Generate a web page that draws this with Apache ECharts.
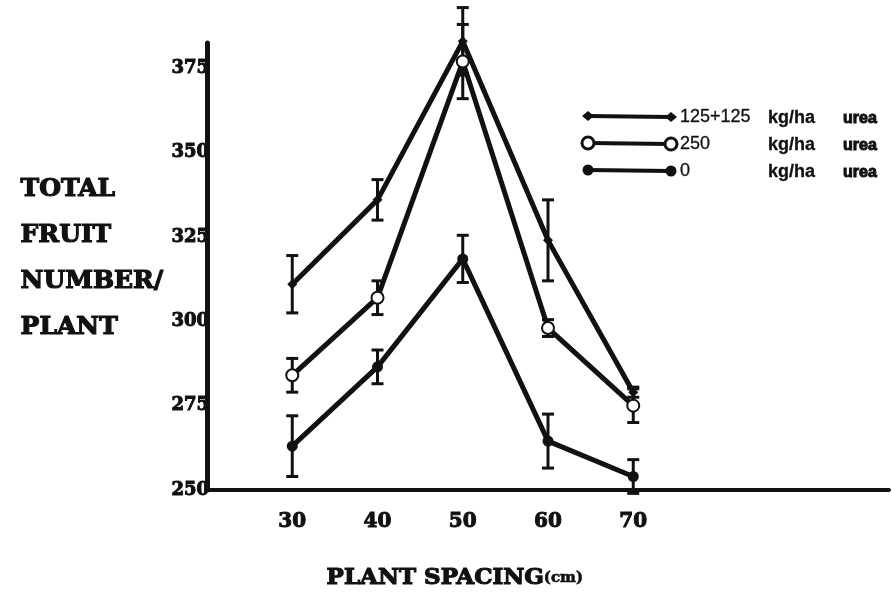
<!DOCTYPE html>
<html>
<head>
<meta charset="utf-8">
<script src="https://cdn.jsdelivr.net/npm/echarts@6/dist/echarts.min.js"></script>
<style>
  html, body { margin: 0; padding: 0; background: #fff; }
  #chart { width: 892px; height: 598px; }
</style>
</head>
<body>
<div id="chart"></div>
<script>
// plant spacing (cm)
var spacing = [30, 40, 50, 60, 70];
var yTicks = [250, 275, 300, 325, 350, 375];

// total fruit number / plant
var split125 = [311, 336, 383, 324, 279];
var split125Err = [8.5, 6, 10, 12, 1.5];
var single250 = [284, 307, 377, 298, 275];
var single250Err = [5, 5, 11, 2.5, 5];
var noUrea = [263, 286.5, 318.5, 264.5, 254];
var noUreaErr = [9, 5, 7, 8, 5];

var legendRows = [
  { lead: '125+125', symbol: 'diamond' },
  { lead: '250', symbol: 'open' },
  { lead: '0', symbol: 'dot' }
];

var serif = 'DejaVu Serif';
var sans = 'Liberation Sans';

function pairs(vals) {
  return spacing.map(function (x, i) { return [x, vals[i]]; });
}
function errData(vals, errs) {
  return spacing.map(function (x, i) { return [x, vals[i] - errs[i], vals[i] + errs[i]]; });
}

function errSeries(vals, errs) {
  return {
    type: 'custom',
    clip: false,
    z: 3,
    data: errData(vals, errs),
    renderItem: function (params, api) {
      var lo = api.coord([api.value(0), api.value(1)]);
      var hi = api.coord([api.value(0), api.value(2)]);
      var w = 6;
      var st = { stroke: '#111', lineWidth: 3 };
      return {
        type: 'group',
        children: [
          { type: 'line', shape: { x1: lo[0], y1: lo[1], x2: hi[0], y2: hi[1] }, style: st },
          { type: 'line', shape: { x1: lo[0] - w, y1: lo[1], x2: lo[0] + w, y2: lo[1] }, style: st },
          { type: 'line', shape: { x1: hi[0] - w, y1: hi[1], x2: hi[0] + w, y2: hi[1] }, style: st }
        ]
      };
    }
  };
}

function lineSeries(name, vals, symbol, size) {
  return {
    name: name,
    type: 'line',
    clip: false,
    z: 4,
    data: pairs(vals),
    symbol: symbol,
    symbolSize: size,
    showAllSymbol: true,
    lineStyle: { color: '#111', width: 5 },
    itemStyle: { color: '#111', borderColor: '#111', borderWidth: symbol === 'emptyCircle' ? 3 : 0 }
  };
}

// legend drawn by hand: line with a marker at each end
function marker(kind, x, y) {
  if (kind === 'diamond') {
    return { type: 'polygon', shape: { points: [[x - 6, y], [x, y - 5], [x + 6, y], [x, y + 5]] }, style: { fill: '#111' } };
  }
  if (kind === 'open') {
    return { type: 'circle', shape: { cx: x, cy: y, r: 6 }, style: { fill: '#fff', stroke: '#111', lineWidth: 3 } };
  }
  return { type: 'circle', shape: { cx: x, cy: y, r: 5.5 }, style: { fill: '#111' } };
}

function label(t, x, y, font, thick) {
  return {
    type: 'text', x: x, y: y,
    style: { text: t, font: font, fill: '#111', stroke: '#111', lineWidth: thick, verticalAlign: 'middle' }
  };
}

var legendGraphics = [];
legendRows.forEach(function (row, i) {
  var y = 116 + i * 27;
  legendGraphics.push({ type: 'line', shape: { x1: 588, y1: y, x2: 670, y2: y + 1 }, style: { stroke: '#111', lineWidth: 4 } });
  legendGraphics.push(marker(row.symbol, 588, y));
  legendGraphics.push(marker(row.symbol, 671, y + 1));
  legendGraphics.push(label(row.lead, 680, y + 1, '18px ' + sans, 0.3));
  legendGraphics.push(label('kg/ha', 768, y + 2, 'bold 18px ' + sans, 0.3));
  legendGraphics.push(label('urea', 843, y + 3, 'bold 16px ' + sans, 1));
});

var yTitle = ['TOTAL', 'FRUIT', 'NUMBER/', 'PLANT'];
var titleGraphics = yTitle.map(function (t, i) {
  return {
    type: 'text', left: 20, top: 176 + i * 46,
    style: { text: t, font: 'bold 25px ' + serif, fill: '#111', stroke: '#111', lineWidth: 1.2 }
  };
});

var chart = echarts.init(document.getElementById('chart'));
chart.setOption({
  backgroundColor: '#fff',
  animation: false,
  grid: { left: 207, right: 0, top: 43, bottom: 108 },
  xAxis: {
    type: 'value',
    min: 20,
    max: 100,
    interval: 10,
    splitLine: { show: false },
    axisTick: { show: false },
    axisLine: { lineStyle: { color: '#111', width: 4 } },
    axisLabel: {
      margin: 22,
      color: '#111',
      fontFamily: serif,
      fontWeight: 'bold',
      fontSize: 20,
      textBorderColor: '#111',
      textBorderWidth: 1,
      formatter: function (v) { return spacing.indexOf(v) >= 0 ? String(v) : ''; }
    }
  },
  yAxis: {
    type: 'value',
    min: 250,
    max: 382.5,
    interval: 25,
    splitLine: { show: false },
    axisTick: { show: false },
    axisLine: { show: true, lineStyle: { color: '#111', width: 5 } },
    axisLabel: {
      margin: -2,
      color: '#111',
      fontFamily: serif,
      fontWeight: 'bold',
      fontSize: 18,
      textBorderColor: '#111',
      textBorderWidth: 1,
      showMaxLabel: false,
      formatter: function (v) { return yTicks.indexOf(v) >= 0 ? String(v) : ''; }
    }
  },
  graphic: titleGraphics.concat(legendGraphics).concat([
    {
      type: 'text', left: 326, top: 566,
      style: {
        text: '{a|PLANT SPACING}{b|(cm)}',
        rich: {
          a: { font: 'bold 23px ' + serif, fill: '#111', stroke: '#111', lineWidth: 1.2 },
          b: { font: 'bold 15px ' + serif, fill: '#111', stroke: '#111', lineWidth: 0.6 }
        }
      }
    }
  ]),
  series: [
    errSeries(split125, split125Err),
    errSeries(single250, single250Err),
    errSeries(noUrea, noUreaErr),
    lineSeries('125+125 kg/ha urea', split125, 'diamond', 10),
    lineSeries('250 kg/ha urea', single250, 'emptyCircle', 12),
    lineSeries('0 kg/ha urea', noUrea, 'circle', 11)
  ]
});
</script>
</body>
</html>
